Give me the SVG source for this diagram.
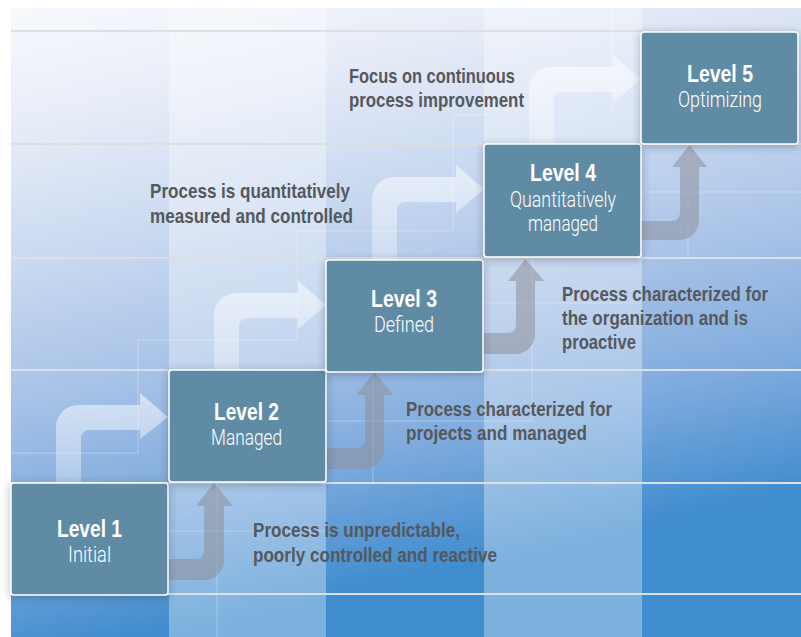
<svg xmlns="http://www.w3.org/2000/svg" width="801" height="637" viewBox="0 0 801 637">
  <defs>
    <linearGradient id="bg" x1="11" y1="8" x2="150" y2="637" gradientUnits="userSpaceOnUse">
      <stop offset="0" stop-color="#f8f9fd"/>
      <stop offset="0.2" stop-color="#e5ebf7"/>
      <stop offset="0.4" stop-color="#c8d8f0"/>
      <stop offset="0.6" stop-color="#a7c2e7"/>
      <stop offset="0.8" stop-color="#7eaadd"/>
      <stop offset="1" stop-color="#3f8cce"/>
    </linearGradient>
    <linearGradient id="riser" x1="0" y1="0" x2="0" y2="1">
      <stop offset="0" stop-color="#ffffff" stop-opacity="0.55"/>
      <stop offset="1" stop-color="#ffffff" stop-opacity="0.3"/>
    </linearGradient>
    <filter id="shadow" x="-20%" y="-20%" width="140%" height="140%">
      <feDropShadow dx="0" dy="2" stdDeviation="4" flood-color="#2a3440" flood-opacity="0.35"/>
    </filter>
    <style>
      .band { fill: #ffffff; opacity: 0.33; }
      .rule { stroke: #dcdfe3; stroke-width: 2; fill: none; }
      .faint { stroke: #ffffff; stroke-width: 1; fill: none; opacity: 0.3; }
      .up { fill: url(#riser); }
      .climb { fill: #8e9099; opacity: 0.55; }
      .box { fill: #5e8ba5; stroke: #ffffff; stroke-width: 1.5; filter: url(#shadow); }
      .t { font-family: "Liberation Sans", Arial, sans-serif; font-weight: bold; font-size: 23.5px; fill: #ffffff; }
      .s { font-family: Roboto, "Liberation Sans", sans-serif; font-weight: 300; font-size: 22px; fill: #ffffff; }
      .desc { font-family: "Liberation Sans", Arial, sans-serif; font-weight: bold; font-size: 20.5px; fill: #55585d; }
    </style>
  </defs>

  <!-- backdrop -->
  <rect x="0" y="0" width="801" height="637" fill="#ffffff"/>
  <rect x="11" y="8" width="790" height="629" fill="url(#bg)"/>
  <rect class="band" x="169" y="8" width="157" height="629"/>
  <rect class="band" x="484" y="8" width="158" height="629"/>

  <!-- row rules -->
  <g id="rules">
    <line class="rule" x1="11" y1="31" x2="801" y2="31"/>
    <line class="rule" x1="11" y1="144" x2="801" y2="144"/>
    <line class="rule" x1="11" y1="258" x2="801" y2="258"/>
    <line class="rule" x1="11" y1="370" x2="801" y2="370"/>
    <line class="rule" x1="11" y1="483" x2="801" y2="483"/>
    <line class="rule" x1="11" y1="594" x2="801" y2="594"/>
  </g>

  <!-- thin offset grid -->
  <g id="grid">
    <path class="faint" d="M11,453 H138 V340 H297 V231 H453 V115 H612 V8"/>
    <path class="faint" d="M168,531 H326 M217,483 V637"/>
    <path class="faint" d="M326,421 H532 V258 M373,372 V483"/>
    <path class="faint" d="M483,303 H642 M688,145 V258 M641,192 H801"/>
  </g>

  <!-- connectors -->
  <g id="connectors">
    <!-- rising steps into the left side of the next level -->
    <path class="up" d="M56,483 V427 A22,22 0 0 1 78,405 H140 V393 L168,417 L140,439 V430 H89 A8,8 0 0 0 81,438 V483 Z"/>
    <path class="up" d="M214,370 V315 A22,22 0 0 1 236,293 H298 V281 L326,305 L298,329 V318 H247 A8,8 0 0 0 239,326 V370 Z"/>
    <path class="up" d="M372,260 V199 A22,22 0 0 1 394,177 H456 V165 L484,189 L456,213 V202 H405 A8,8 0 0 0 397,210 V260 Z"/>
    <path class="up" d="M529,144 V89 A22,22 0 0 1 551,67 H613 V55 L641,79 L613,103 V92 H562 A8,8 0 0 0 554,100 V144 Z"/>

    <!-- returns from the right side up into the next level -->
    <path class="climb" d="M168,559 H196 A8,8 0 0 0 204,551 V506 H196 L214,483 L233,506 H224 V560 A20,20 0 0 1 204,580 H168 Z"/>
    <path class="climb" d="M326,448 H357 A8,8 0 0 0 365,440 V395 H356 L374.5,372 L393,395 H384 V449 A20,20 0 0 1 364,469 H326 Z"/>
    <path class="climb" d="M483,333 H508 A8,8 0 0 0 516,325 V281 H508 L525.5,259 L544,281 H535 V334 A20,20 0 0 1 515,354 H483 Z"/>
    <path class="climb" d="M641,221 H672 A8,8 0 0 0 680,213 V167 H672 L689.5,145 L707,167 H699 V220 A20,20 0 0 1 679,240 H641 Z"/>
  </g>

  <!-- levels -->
  <g id="level1">
    <rect class="box" x="11" y="483" width="157" height="112" rx="3"/>
    <text class="t" x="57" y="537" textLength="65" lengthAdjust="spacingAndGlyphs">Level 1</text>
    <text class="s" x="68" y="562" textLength="43" lengthAdjust="spacingAndGlyphs">Initial</text>
  </g>
  <g id="level2">
    <rect class="box" x="169" y="370" width="157" height="112" rx="3"/>
    <text class="t" x="214" y="420" textLength="65" lengthAdjust="spacingAndGlyphs">Level 2</text>
    <text class="s" x="211" y="445" textLength="71" lengthAdjust="spacingAndGlyphs">Managed</text>
  </g>
  <g id="level3">
    <rect class="box" x="326" y="260" width="157" height="112" rx="3"/>
    <text class="t" x="371" y="307" textLength="66" lengthAdjust="spacingAndGlyphs">Level 3</text>
    <text class="s" x="374" y="332" textLength="60" lengthAdjust="spacingAndGlyphs">Defined</text>
  </g>
  <g id="level4">
    <rect class="box" x="484" y="144" width="157" height="113" rx="3"/>
    <text class="t" x="530" y="181" textLength="66" lengthAdjust="spacingAndGlyphs">Level 4</text>
    <text class="s" x="510" y="207" textLength="106" lengthAdjust="spacingAndGlyphs">Quantitatively</text>
    <text class="s" x="528" y="231" textLength="70" lengthAdjust="spacingAndGlyphs">managed</text>
  </g>
  <g id="level5">
    <rect class="box" x="641" y="32" width="157" height="112" rx="3"/>
    <text class="t" x="687" y="82" textLength="66" lengthAdjust="spacingAndGlyphs">Level 5</text>
    <text class="s" x="678" y="107" textLength="84" lengthAdjust="spacingAndGlyphs">Optimizing</text>
  </g>

  <!-- step descriptions -->
  <g id="notes">
    <text class="desc" x="349" y="83" textLength="166" lengthAdjust="spacingAndGlyphs">Focus on continuous</text>
    <text class="desc" x="349" y="107" textLength="175" lengthAdjust="spacingAndGlyphs">process improvement</text>
    <text class="desc" x="150" y="198" textLength="200" lengthAdjust="spacingAndGlyphs">Process is quantitatively</text>
    <text class="desc" x="150" y="223" textLength="203" lengthAdjust="spacingAndGlyphs">measured and controlled</text>
    <text class="desc" x="562" y="301" textLength="206" lengthAdjust="spacingAndGlyphs">Process characterized for</text>
    <text class="desc" x="562" y="325" textLength="186" lengthAdjust="spacingAndGlyphs">the organization and is</text>
    <text class="desc" x="562" y="349" textLength="74" lengthAdjust="spacingAndGlyphs">proactive</text>
    <text class="desc" x="406" y="416" textLength="206" lengthAdjust="spacingAndGlyphs">Process characterized for</text>
    <text class="desc" x="406" y="440" textLength="181" lengthAdjust="spacingAndGlyphs">projects and managed</text>
    <text class="desc" x="253" y="537" textLength="207" lengthAdjust="spacingAndGlyphs">Process is unpredictable,</text>
    <text class="desc" x="253" y="562" textLength="244" lengthAdjust="spacingAndGlyphs">poorly controlled and reactive</text>
  </g>
</svg>
